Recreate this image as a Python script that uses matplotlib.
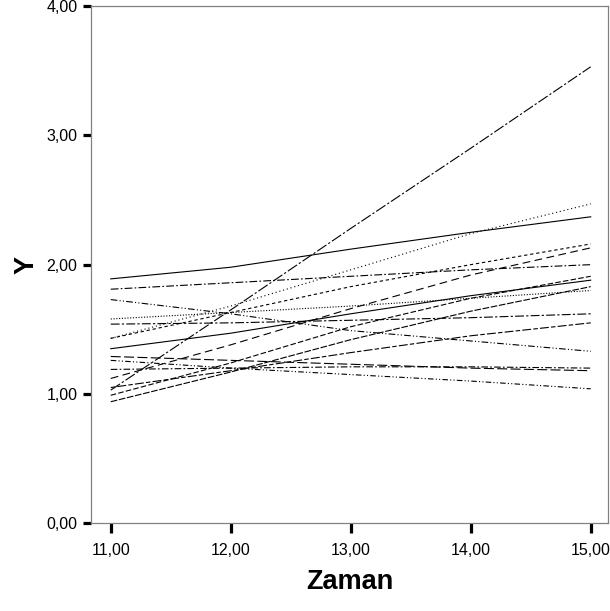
import matplotlib
matplotlib.use("Agg")
import matplotlib.pyplot as plt

plt.rcParams["font.family"] = ["Liberation Sans", "DejaVu Sans"]

# Time points
zaman = [11, 12, 13, 14, 15]

# Individual trajectories (Y at each time point)
y_a = [1.89, 1.98, 2.12, 2.25, 2.37]
y_b = [1.03, 1.65, 2.28, 2.90, 3.53]
y_c = [1.81, 1.86, 1.91, 1.96, 2.00]
y_d = [1.73, 1.62, 1.49, 1.41, 1.33]
y_e = [1.43, 1.68, 1.96, 2.24, 2.47]
y_h = [1.43, 1.63, 1.83, 2.00, 2.16]
y_i = [1.58, 1.63, 1.68, 1.74, 1.80]
y_f = [1.35, 1.47, 1.62, 1.76, 1.88]
y_g = [1.12, 1.38, 1.66, 1.92, 2.13]
y_m = [1.54, 1.55, 1.57, 1.59, 1.62]
y_n = [1.29, 1.26, 1.23, 1.20, 1.18]
y_o = [1.19, 1.20, 1.21, 1.21, 1.20]
y_p = [1.26, 1.20, 1.15, 1.10, 1.04]
y_q = [1.05, 1.18, 1.32, 1.45, 1.55]
y_r = [0.99, 1.24, 1.52, 1.74, 1.91]
y_s = [0.94, 1.17, 1.42, 1.64, 1.83]

x_ticks = [11, 12, 13, 14, 15]
x_ticklabels = ["11,00", "12,00", "13,00", "14,00", "15,00"]
y_ticks = [0, 1, 2, 3, 4]
y_ticklabels = ["0,00", "1,00", "2,00", "3,00", "4,00"]

series = [
    (y_a, "-"),
    (y_b, (0, (10, 2, 2, 2))),
    (y_c, (0, (7, 2, 1.5, 2))),
    (y_d, (0, (6, 2, 1, 2, 1, 2))),
    (y_e, (0, (1, 2.5))),
    (y_h, (0, (3, 2.5))),
    (y_i, (0, (1, 1.5))),
    (y_f, "-"),
    (y_g, (0, (7, 4))),
    (y_m, (0, (8, 2, 2, 2))),
    (y_n, (0, (9, 3))),
    (y_o, (0, (6, 2, 1.5, 2))),
    (y_p, (0, (5, 2, 1, 2, 1, 2))),
    (y_q, (0, (4, 2, 8, 2))),
    (y_r, (0, (5, 2))),
    (y_s, (0, (6, 1.5))),
]

fig = plt.figure(figsize=(6.1, 6.11), dpi=100)
ax = fig.add_axes([0.1487, 0.1435, 0.8488, 0.8467])

for vals, ls in series:
    ax.plot(zaman, vals, color="black", lw=0.8, linestyle=ls)

ax.set_xlim(10.833, 15.148)
ax.set_ylim(0, 4)
ax.set_xticks(x_ticks)
ax.set_xticklabels(x_ticklabels)
ax.set_yticks(y_ticks)
ax.set_yticklabels(y_ticklabels)

for sp in ax.spines.values():
    sp.set_color("#808080")
    sp.set_linewidth(0.9)

ax.tick_params(axis="x", length=7.5, width=2.3, pad=7, labelsize=11.5, color="black")
ax.tick_params(axis="y", length=6, width=2.3, pad=3.5, labelsize=11.5, color="black")

ax.set_xlabel("Zaman", fontsize=19.5, fontweight="bold", va="center")
ax.set_ylabel("Y", fontsize=19.5, fontweight="bold", va="center")
ax.xaxis.set_label_coords(0.5, -0.1135)
ax.yaxis.set_label_coords(-0.123, 0.5)

fig.savefig("out.png", dpi=100)
